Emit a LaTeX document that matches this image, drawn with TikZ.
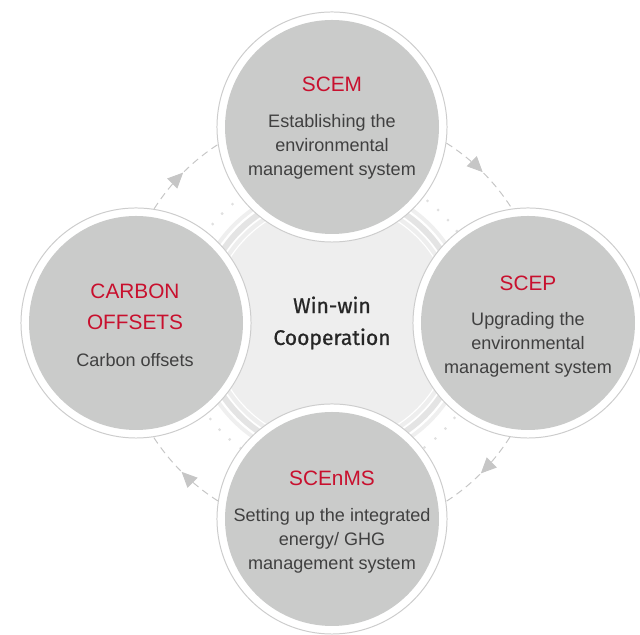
\documentclass[tikz,border=0pt]{standalone}
\usepackage{fontspec}
\setmainfont{Liberation Sans}
\newfontfamily\hubfont[FakeBold=0.8]{Fira Sans}
\usetikzlibrary{calc,arrows.meta,decorations.markings}

\definecolor{titlered}{RGB}{200,16,46}
\definecolor{bodygray}{RGB}{64,64,64}
\definecolor{discgray}{RGB}{202,203,202}
\definecolor{ringgray}{RGB}{205,205,205}
\definecolor{hubgray}{RGB}{238,238,238}
\definecolor{bandgray}{RGB}{228,228,228}
\definecolor{dotgray}{RGB}{224,224,224}
\definecolor{arcgray}{RGB}{198,198,198}

\tikzset{
  stage/.style={circle, draw=ringgray, line width=0.7pt, fill=white,
    minimum size=5.75cm, inner sep=0pt},
  hubdisc/.style={circle, fill=hubgray, minimum size=6.3cm, inner sep=0pt,
    align=center, text=black!85, font=\hubfont\fontsize{15}{22.7}\selectfont},
  headtext/.style={text=titlered, align=center, font=\fontsize{14.8}{22}\selectfont},
  bodytext/.style={text=bodygray, align=center, font=\fontsize{12.85}{17}\selectfont},
  cyclearc/.style={arcgray, line width=0.7pt, dash pattern=on 5pt off 3.5pt,
    postaction={decorate}, decoration={markings,
      mark=at position 0.5 with {\arrow{Triangle[length=11pt,width=10pt]}}}}
}

\begin{document}
\begin{tikzpicture}[x=0.025cm,y=0.025cm]
    \useasboundingbox (0,0) rectangle (640,635);
    % dots round the hub
    \draw[dotgray, line width=2.2pt, line cap=round, dash pattern=on 0pt off 10pt]
        (332,312) circle (155);
    % the hub and its rings
    \node[hubdisc] (hub) at (332,312) {Win-win\\Cooperation};
    \draw[white, line width=0.8pt] (hub.center) circle (121);
    \draw[bandgray, line width=4.3pt] (hub.center) circle (131);
    \draw[bandgray!60, line width=2.8pt] (hub.center) circle (138.5);
    % the four stages
    \node[stage] (scem) at (332,508) {};
    \node[stage] (scep) at (528,312) {};
    \node[stage] (scenms) at (332,116) {};
    \node[stage] (carbon) at (136,312) {};
    \fill[discgray] (scem.center) circle (107);
    \fill[discgray] (scep.center) circle (107);
    \fill[discgray] (scenms.center) circle (107);
    \fill[discgray] (carbon.center) circle (107);
    % SCEM
    \node[headtext] (scemhead) at ($(scem)+(0,43)$) {SCEM};
    \node[bodytext] (scembody) at ($(scem)+(0,-20)$) {Establishing the\\environmental\\management system};
    % SCEP
    \node[headtext] (scephead) at ($(scep)+(0,40)$) {SCEP};
    \node[bodytext] (scepbody) at ($(scep)+(0,-22)$) {Upgrading the\\environmental\\management system};
    % SCEnMS
    \node[headtext] (scenmshead) at ($(scenms)+(0,41)$) {SCEnMS};
    \node[bodytext] (scenmsbody) at ($(scenms)+(0,-22)$) {Setting up the integrated\\energy/ GHG\\management system};
    % carbon offsets
    \node[headtext] (carbonhead) at ($(carbon)+(-1,16.5)$) {CARBON\\OFFSETS};
    \node[bodytext] (carbonbody) at ($(carbon)+(-1,-37)$) {Carbon offsets};
    % the dashed arrows, clockwise
    \draw[cyclearc] (carbon.81.5) arc[start angle=147.6, end angle=122.4, radius=212];
    \draw[cyclearc] (scem.-8.5) arc[start angle=57.6, end angle=32.4, radius=212];
    \draw[cyclearc] (scep.261.5) arc[start angle=-32.4, end angle=-57.6, radius=212];
    \draw[cyclearc] (scenms.171.5) arc[start angle=-122.4, end angle=-147.6, radius=212];
\end{tikzpicture}
\end{document}
